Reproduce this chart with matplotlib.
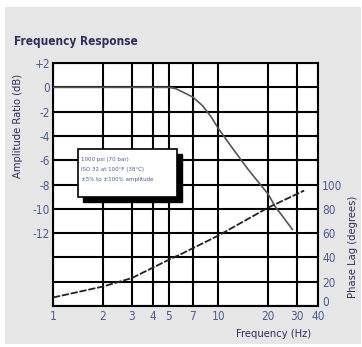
import matplotlib
matplotlib.use("Agg")
import matplotlib.pyplot as plt
from matplotlib.patches import Rectangle

# Amplitude response (dB) vs frequency (Hz)
amp_freq = [1, 2, 4, 5, 5.5, 6, 7, 8, 9, 10, 12, 15, 20, 22, 25, 28]
amp_db = [0, 0, 0, 0, -0.1, -0.35, -0.8, -1.5, -2.4, -3.4, -4.9, -6.7, -8.8, -9.8, -10.8, -11.7]

# Phase lag (degrees) vs frequency (Hz)
phase_freq = [1, 2, 3, 5, 6, 10, 20, 33]
phase_deg = [7, 16, 23, 38, 43, 58, 81, 95]

x_ticks = [1, 2, 3, 4, 5, 7, 10, 20, 30, 40]
x_labels = ["1", "2", "3", "4", "5", "7", "10", "20", "30", "40"]
db_grid = [2, 0, -2, -4, -6, -8, -10, -12, -14, -16, -18]
db_labels = ["+2", "0", "-2", "-4", "-6", "-8", "-10", "-12", "", "", ""]
phase_ticks = [0, 20, 40, 60, 80, 100]
note_lines = ["1000 psi (70 bar)", "ISO 32 at 100\u00b0F (38\u00b0C)", "\u00b15% to \u00b1100% amplitude"]

FONT = ["Liberation Sans Narrow", "DejaVu Sans"]
TICK_COLOR = "#4c5a96"
TEXT_COLOR = "#2e2e5e"

W, H = 362, 347
fig = plt.figure(figsize=(W / 100, H / 100), dpi=100)
fig.patch.set_facecolor("white")


def fx(px):
    return px / W


def fy(py):
    return 1 - py / H


def style(text_obj):
    text_obj.set_family(FONT)
    text_obj.set_stretch("condensed")


# grey panel behind everything
fig.patches.append(Rectangle((fx(5), fy(344)), fx(356), 337 / H, transform=fig.transFigure,
                             facecolor="#e6e6e6", edgecolor="none", zorder=-10))

ax = fig.add_axes([fx(53), fy(306), fx(265), 243 / H])
ax.set_zorder(1)
ax.set_facecolor("white")
ax.set_xscale("log")
ax.set_xlim(1, 40)
ax.set_ylim(-18, 2)
ax.set_xticks(x_ticks)
ax.set_xticklabels(x_labels)
ax.xaxis.set_minor_locator(matplotlib.ticker.NullLocator())
ax.set_yticks(db_grid)
ax.set_yticklabels(db_labels)
ax.grid(True, color="black", linewidth=1.5)
ax.set_axisbelow(True)
for s in ax.spines.values():
    s.set_linewidth(1.5)
    s.set_color("black")
ax.tick_params(length=0, pad=2, labelsize=8.5, labelcolor=TICK_COLOR)
ax.tick_params(axis="x", pad=3)
for lab in ax.get_xticklabels() + ax.get_yticklabels():
    style(lab)

ax.plot(amp_freq, amp_db, color="#555555", linewidth=1.2, zorder=3)

ax2 = ax.twinx()
ax2.set_zorder(2)
ax2.patch.set_visible(False)
ax2.set_ylim(0, 200)
ax2.set_yticks(phase_ticks)
ax2.tick_params(length=0, pad=3, labelsize=8.5, labelcolor=TICK_COLOR)
for lab in ax2.get_yticklabels():
    style(lab)
# keep the bottom "0" clear of the "40" frequency label
ax2.get_yticklabels()[0].set_va("baseline")
for s in ax2.spines.values():
    s.set_visible(False)
ax2.plot(phase_freq, phase_deg, color="#222222", linewidth=1.3, dashes=(4, 1), zorder=3)

# note box with drop shadow
bx0, by0, bx1, by1 = 78, 149, 177, 197
fig.patches.append(Rectangle((fx(bx0 + 5), fy(by1 + 5)), fx(bx1 - bx0), (by1 - by0) / H,
                             transform=fig.transFigure, facecolor="black", edgecolor="black", zorder=5))
fig.patches.append(Rectangle((fx(bx0), fy(by1)), fx(bx1 - bx0), (by1 - by0) / H,
                             transform=fig.transFigure, facecolor="white", edgecolor="black",
                             linewidth=1.2, zorder=6))
for i, line in enumerate(note_lines):
    t = fig.text(fx(81), fy(160 + 10 * i), line, fontsize=4.4, color=TICK_COLOR,
                 va="center", ha="left", zorder=7)
    style(t)

for t in [
    fig.text(fx(14), fy(42), "Frequency Response", fontsize=8.5, fontweight="bold",
             color=TEXT_COLOR, va="center", ha="left"),
    fig.text(fx(18), fy(126), "Amplitude Ratio (dB)", fontsize=8, rotation=90,
             color=TEXT_COLOR, va="center", ha="center"),
    fig.text(fx(353), fy(247), "Phase Lag (degrees)", fontsize=8, rotation=90,
             color=TEXT_COLOR, va="center", ha="center"),
    fig.text(fx(274), fy(334), "Frequency (Hz)", fontsize=8,
             color=TEXT_COLOR, va="center", ha="center"),
]:
    style(t)

fig.savefig("out.png", dpi=100)
